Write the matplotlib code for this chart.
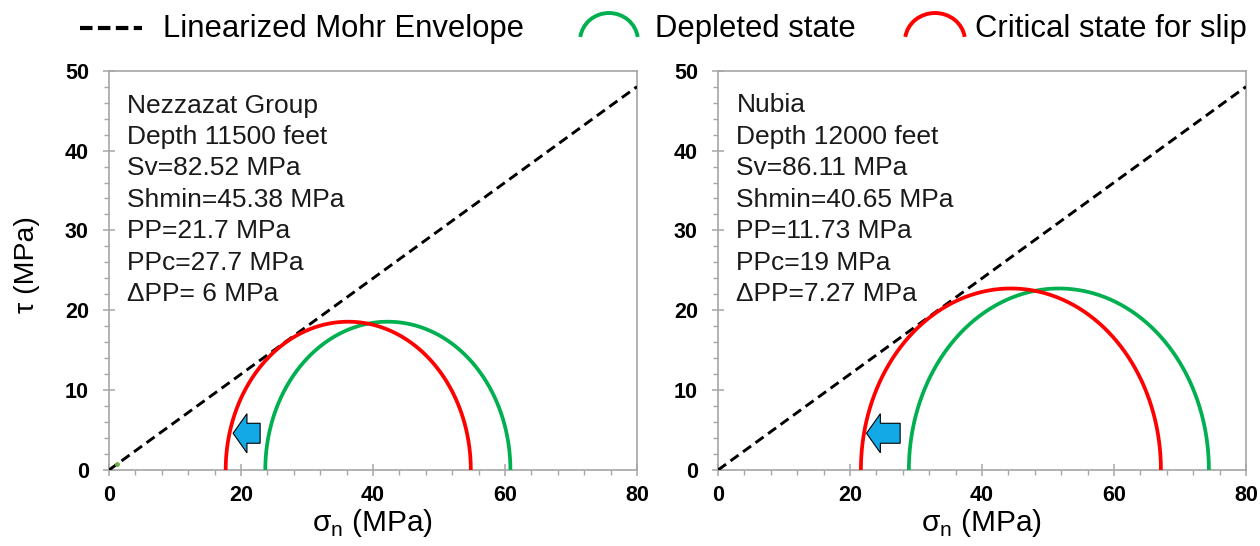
import numpy as np
import matplotlib
matplotlib.use("Agg")
import matplotlib.pyplot as plt
from matplotlib.patches import FancyArrow, Arc
from matplotlib.lines import Line2D
from matplotlib.ticker import MultipleLocator

plt.rcParams['font.family'] = ['Liberation Sans', 'DejaVu Sans']

# ---------------- data ----------------
panel_names = ["Nezzazat Group", "Nubia"]
depth_ft = [11500, 12000]
Sv = [82.52, 86.11]
Shmin = [45.38, 40.65]
PP = [21.7, 11.73]
PPc = [27.7, 19]
dPP_text = ["6", "7.27"]
envelope_x = [0, 80]
envelope_y = [0, 48]
green_dot = (1.2, 0.8)
# arrow (tip x, tail x, y centre) per panel
arrow_tip = [18.8, 22.5]
arrow_tail = [22.9, 27.6]
arrow_y = [4.6, 4.6]
xticks = [0, 20, 40, 60, 80]
yticks = [0, 10, 20, 30, 40, 50]

GREEN = '#00B050'
RED = '#FF0000'
BLUE = '#12A9E6'
GRAY = '#A6A6A6'

W, H = 1260, 546
fig = plt.figure(figsize=(W / 100, H / 100), dpi=100)

ax_bottom = 1 - 470 / H
ax_height = 399.3 / H
ax_lefts = [109 / W, 718 / W]
ax_width = 528 / W

theta = np.linspace(0, np.pi, 400)

for i in range(2):
    ax = fig.add_axes([ax_lefts[i], ax_bottom, ax_width, ax_height])
    ax.set_xlim(0, 80)
    ax.set_ylim(0, 50)
    for s in ax.spines.values():
        s.set_color(GRAY)
        s.set_linewidth(1.2)
    ax.set_xticks(xticks)
    ax.set_yticks(yticks)
    ax.xaxis.set_minor_locator(MultipleLocator(4))
    ax.yaxis.set_minor_locator(MultipleLocator(2))
    ax.tick_params(which='major', direction='inout', length=9, width=1.1,
                   color=GRAY, labelsize=15.5, labelcolor='black')
    ax.tick_params(which='minor', direction='out', length=3.6, width=1.0, color=GRAY)
    ax.tick_params(axis='x', which='major', pad=6)
    ax.tick_params(axis='y', which='major', pad=10)
    for lab in ax.get_xticklabels() + ax.get_yticklabels():
        lab.set_fontweight('bold')

    # envelope
    ax.plot(envelope_x, envelope_y, color='black', lw=2.1,
            dashes=(3.4, 1.9), zorder=3)

    # Mohr semicircles
    for pp, col in [(PP[i], GREEN), (PPc[i], RED)]:
        s1 = Sv[i] - pp
        s3 = Shmin[i] - pp
        c = (s1 + s3) / 2
        r = (s1 - s3) / 2
        ax.plot(c + r * np.cos(theta), r * np.sin(theta), color=col,
                lw=2.7, zorder=4, solid_capstyle='butt')

    if i == 0:
        ax.plot(*green_dot, 'o', color='#70AD47', ms=2.5, zorder=5)

    # arrow
    dx = arrow_tip[i] - arrow_tail[i]
    arr = FancyArrow(arrow_tail[i], arrow_y[i], dx, 0, width=2.5,
                     head_width=4.9, head_length=2.1,
                     length_includes_head=True, facecolor=BLUE,
                     edgecolor='black', linewidth=0.8, zorder=6)
    ax.add_patch(arr)

    lines = [panel_names[i],
             f"Depth {depth_ft[i]} feet",
             f"Sv={Sv[i]} MPa",
             f"Shmin={Shmin[i]} MPa",
             f"PP={PP[i]} MPa",
             f"PPc={PPc[i]} MPa",
             (f"ΔPP= {dPP_text[i]} MPa" if i == 0 else f"ΔPP={dPP_text[i]} MPa")]
    x0 = 0.035
    y0 = (470 - 112.5) / 399.3
    dy = 31.4 / 399.3
    for k, t in enumerate(lines):
        ax.text(x0, y0 - k * dy, t, transform=ax.transAxes, fontsize=19,
                va='baseline', ha='left', color='#1a1a1a')

    # x label
    fig.text((ax_lefts[i] + ax_width / 2), 1 - 531 / H,
             r"σ$_\mathregular{n}$ (MPa)", fontsize=21.5, ha='center',
             va='baseline')

# y label
fig.text(27 / W, 1 - 265 / H, "τ (MPa)", rotation=90, fontsize=20.5,
         ha='center', va='center')

# ---------------- legend (manual) ----------------
lg = fig.add_axes([0, 0, 1, 1], facecolor='none')
lg.set_xlim(0, W)
lg.set_ylim(H, 0)
lg.axis('off')
lg.add_line(Line2D([80, 142], [28, 28], color='black', lw=3.0,
                   dashes=(3.0, 1.3)))
lg.text(163, 37, "Linearized Mohr Envelope", fontsize=22.3, va='baseline', ha='left')
lg.add_patch(Arc((609, 41), 58, 56, theta1=188, theta2=352, color=GREEN, lw=2.8))
lg.text(655, 37, "Depleted state", fontsize=22.3, va='baseline', ha='left')
lg.add_patch(Arc((935, 41), 60, 56, theta1=188, theta2=352, color=RED, lw=2.8))
lg.text(975, 37, "Critical state for slip", fontsize=22.3, va='baseline', ha='left')

fig.savefig("out.png", dpi=100)
